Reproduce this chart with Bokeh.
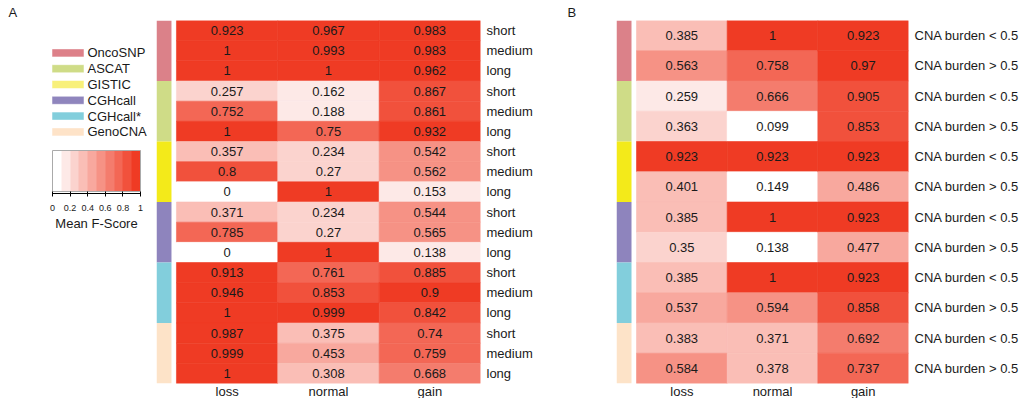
from bokeh.plotting import figure
from bokeh.layouts import row
from bokeh.models import (Range1d, FixedTicker, LinearColorMapper, ColorBar,
                          ColumnDataSource, Title)
from bokeh.transform import transform
from bokeh.core.properties import value
from bokeh.embed import file_html
from bokeh.resources import INLINE

FONT = "Liberation Sans"
TEXT = "#1a1a1a"

# ---- data -----------------------------------------------------------------
methods = ["OncoSNP", "ASCAT", "GISTIC", "CGHcall", "CGHcall*", "GenoCNA"]
method_colors = ["#DB8189", "#CFDC87", "#F3EA1A", "#8E84BD", "#82CEDC", "#FDE3C8"]
legend_colors = ["#DD8089", "#CFDC87", "#F8F07A", "#8F85BD", "#82CEDC", "#FEE3C8"]
states = ["loss", "normal", "gain"]

# Panel A: mean F-score by segment length
lengths = ["short", "medium", "long"]
a_loss = [0.923, 1, 1, 0.257, 0.752, 1, 0.357, 0.8, 0, 0.371, 0.785, 0,
          0.913, 0.946, 1, 0.987, 0.999, 1]
a_normal = [0.967, 0.993, 1, 0.162, 0.188, 0.75, 0.234, 0.27, 1, 0.234, 0.27, 1,
            0.761, 0.853, 0.999, 0.375, 0.453, 0.308]
a_gain = [0.983, 0.983, 0.962, 0.867, 0.861, 0.932, 0.542, 0.562, 0.153,
          0.544, 0.565, 0.138, 0.885, 0.9, 0.842, 0.74, 0.759, 0.668]

# Panel B: mean F-score by CNA burden
burden = ["CNA burden < 0.5", "CNA burden > 0.5"]
b_loss = [0.385, 0.563, 0.259, 0.363, 0.923, 0.401, 0.385, 0.35, 0.385, 0.537,
          0.383, 0.584]
b_normal = [1, 0.758, 0.666, 0.099, 0.923, 0.149, 1, 0.138, 1, 0.594, 0.371, 0.378]
b_gain = [0.923, 0.97, 0.905, 0.853, 0.923, 0.486, 0.923, 0.477, 0.923, 0.858,
          0.692, 0.737]

colorbar_ticks = [0, 0.2, 0.4, 0.6, 0.8, 1]

# ten-step white -> red ramp
fscore_palette = ["#FFFFFF", "#FDE9E7", "#FBD3CE", "#FABEB6", "#F8A89E",
                  "#F69285", "#F47C6D", "#F36755", "#F1513C", "#EF3B24"]

mapper_a = LinearColorMapper(palette=fscore_palette, low=0, high=1)
all_b = b_loss + b_normal + b_gain
mapper_b = LinearColorMapper(palette=fscore_palette, low=min(all_b), high=max(all_b))


def fmt(v):
    return f"{v:g}"


def panel_letter(p, letter, offset):
    p.add_layout(Title(text=letter, text_font=FONT, text_font_size="13px",
                       text_font_style="normal", text_color=TEXT,
                       align="left", offset=offset, standoff=2), "above")


def heatmap(columns, row_labels, group_size, mapper, strip_left,
            border_l, frame_w, border_r, border_t, frame_h, border_b):
    n = len(row_labels)
    xs, ys, vals, labels = [], [], [], []
    for ci, col in enumerate(columns):
        for ri, v in enumerate(col):
            xs.append(ci + 0.5)
            ys.append(ri + 0.5)
            vals.append(v)
            labels.append(fmt(v))
    src = ColumnDataSource(dict(x=xs, y=ys, v=vals, label=labels))

    p = figure(frame_width=frame_w, frame_height=frame_h, title=None,
               x_range=Range1d(strip_left, len(columns)), y_range=Range1d(n, 0),
               x_axis_location="below", y_axis_location="right",
               output_backend="svg", toolbar_location=None,
               min_border_left=border_l, min_border_right=border_r,
               min_border_top=border_t, min_border_bottom=border_b)
    p.outline_line_color = None
    p.grid.visible = False
    p.background_fill_color = "white"
    p.border_fill_color = "white"

    # method colour strip
    groups = len(methods)
    strip_w = -strip_left * 0.75
    sx = [strip_left + strip_w / 2] * groups
    sy = [g * group_size + group_size / 2 for g in range(groups)]
    p.rect(x=sx, y=sy, width=strip_w, height=group_size,
           fill_color=method_colors, line_color=None)

    # cells
    p.rect(x="x", y="y", width=1, height=1, source=src,
           fill_color=transform("v", mapper), line_color=transform("v", mapper),
           line_width=0.6)
    p.text(x="x", y="y", text="label", source=src, text_align="center",
           text_baseline="middle", text_font=value(FONT),
           text_font_size="13px", text_color=TEXT)

    xa = p.xaxis[0]
    xa.ticker = FixedTicker(ticks=[i + 0.5 for i in range(len(states))])
    xa.major_label_overrides = {i + 0.5: s for i, s in enumerate(states)}
    ya = p.yaxis[0]
    ya.ticker = FixedTicker(ticks=[i + 0.5 for i in range(n)])
    ya.major_label_overrides = {i + 0.5: s for i, s in enumerate(row_labels)}
    for ax in (xa, ya):
        ax.axis_line_color = None
        ax.major_tick_line_color = None
        ax.minor_tick_line_color = None
        ax.major_tick_out = 0
        ax.major_tick_in = 0
        ax.major_label_text_font = FONT
        ax.major_label_text_font_size = "13px"
        ax.major_label_text_color = TEXT
    xa.major_label_standoff = 0
    ya.major_label_standoff = 6
    return p


pA = heatmap([a_loss, a_normal, a_gain], lengths * len(methods), 3, mapper_a,
             -0.197, 6, 324, 80, 20, 363, 15)
pB = heatmap([b_loss, b_normal, b_gain], burden * len(methods), 2, mapper_b,
             -0.2206, 56, 292, 116, 20, 363, 15)
panel_letter(pB, "B", -49)

# ---- side panel: panel letter, method legend, colour key -------------------
# y data units here equal page pixels (frame spans rows 20..383)
pL = figure(frame_width=150, frame_height=363, title=None,
            x_range=Range1d(0, 150), y_range=Range1d(383, 20),
            output_backend="svg", toolbar_location=None,
            min_border_left=0, min_border_right=0, min_border_top=20,
            min_border_bottom=15, x_axis_location=None, y_axis_location=None)
pL.outline_line_color = None
pL.grid.visible = False
panel_letter(pL, "A", 8)

leg_y = [52.4 + 15.8 * i for i in range(len(methods))]
pL.rect(x=[67.5] * len(methods), y=leg_y, width=32, height=8,
        fill_color=legend_colors, line_color="white", line_alpha=0.5, line_width=1)
pL.text(x=[87] * len(methods), y=leg_y, text=methods, text_align="left",
        text_baseline="middle", text_font=value(FONT), text_font_size="13px",
        text_color=TEXT)

cb_left, cb_top, cb_w, cb_h = 52, 152, 88, 41
cbar = ColorBar(color_mapper=mapper_a, orientation="horizontal", width=cb_w, height=cb_h,
                ticker=FixedTicker(ticks=colorbar_ticks),
                major_label_overrides={t: fmt(t) for t in colorbar_ticks},
                major_label_text_font=FONT, major_label_text_font_size="9px",
                major_label_text_color=TEXT, label_standoff=8,
                major_tick_in=0, major_tick_out=5, major_tick_line_color="black",
                minor_tick_line_color=None, bar_line_color="#aaaaaa",
                padding=0, margin=0, location=(cb_left, 170),
                background_fill_color=None, border_line_color=None)
pL.add_layout(cbar, "center")
# dark baseline under the colour key
pL.line(x=[cb_left, cb_left + cb_w], y=[cb_top + cb_h, cb_top + cb_h],
        line_color="black", line_width=1)
pL.text(x=[96], y=[223], text=["Mean F-Score"], text_align="center",
        text_baseline="middle", text_font=value(FONT), text_font_size="13px",
        text_color=TEXT)

layout = row(pL, pA, pB)
open("out.html", "w").write(file_html(layout, INLINE))
